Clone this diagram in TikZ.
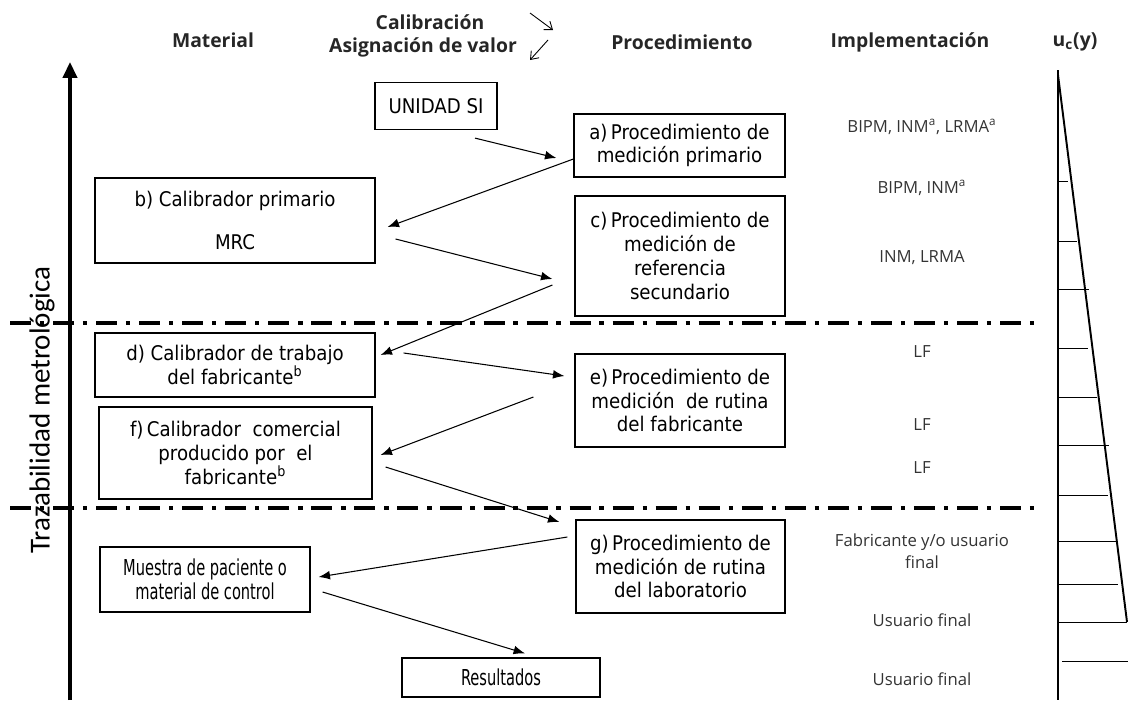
\documentclass[tikz,border=0pt]{standalone}
\usepackage{fontspec}
\setmainfont{Open Sans}
\newfontfamily\boxfont{DejaVu Sans Condensed}
\newfontfamily\narrowboxfont[FakeStretch=0.74]{DejaVu Sans Condensed}
\newfontfamily\trazfont{Carlito}
\usetikzlibrary{arrows.meta}
\usetikzlibrary{calc}

\begin{document}
\begin{tikzpicture}
[x=0.02cm,y=-0.02cm,%
  boxDecorate/.style={draw,line width=0.7pt,align=center,inner sep=2pt,font=\boxfont\fontsize{11.5}{13.5}\selectfont},%
  narrowDecorate/.style={boxDecorate,font=\narrowboxfont\fontsize{12.5}{14}\selectfont},%
  headDecorate/.style={text=black!85,font=\bfseries\fontsize{11}{13.5}\selectfont},%
  implDecorate/.style={align=center,text=black!80,font=\fontsize{9.5}{12.5}\selectfont},%
  flowDecorate/.style={-{Latex[length=6.5pt,width=5pt]},line width=0.6pt},%
  levelDecorate/.style={line width=2pt,dash pattern=on 12pt off 5pt on 2.5pt off 5pt},%
  tickDecorate/.style={line width=0.5pt}]
\useasboundingbox (0,0) rectangle (1128,700);
%% column headers
\node[headDecorate] (material) at (213,40) {Material};
\node[headDecorate] (calib) at (430,22) {Calibración};
\node[headDecorate] (asign) at (423,47) {Asignación de valor};
\node[headDecorate] (proced) at (682,42) {Procedimiento};
\node[headDecorate] (implem) at (910,42) {Implementación};
\node[headDecorate] (unc) at (1075,42) {u\textsubscript{c}(y)};
\coordinate (calA) at (530,13);
\coordinate (calB) at (553,30);
\coordinate (asgA) at (548,40);
\coordinate (asgB) at (530,60);
\draw[-{Straight Barb[length=4pt,width=6pt]},line width=0.5pt] (calA) -- (calB);
\draw[-{Straight Barb[length=4pt,width=6pt]},line width=0.5pt] (asgA) -- (asgB);
%% traceability axis
\node[rotate=90,font=\trazfont\fontsize{16.5}{18}\selectfont] (traz) at (42,410) {Trazabilidad metrológica};
\coordinate (axbot) at (70,700);
\coordinate (axtop) at (70,62);
\draw[-{Triangle[length=9pt,width=8pt]},line width=1.9pt] (axbot) -- (axtop);
%% level separators
\draw[levelDecorate] (10,323) -- (1035,323);
\draw[levelDecorate] (10,508) -- (1035,508);
%% material and procedure boxes
\node[boxDecorate,minimum width=2.44cm,minimum height=0.94cm] (unidad) at (436,106) {UNIDAD SI};
\node[boxDecorate,minimum width=4.22cm,minimum height=1.26cm] (a) at (679.5,145.5) {a)\,Procedimiento de\\medición primario};
\node[boxDecorate,minimum width=5.6cm,minimum height=1.7cm] (b) at (235,220.5) {b) Calibrador primario\\[11pt]MRC};
\node[boxDecorate,minimum width=4.2cm,minimum height=2.4cm] (c) at (680,256) {c)\,Procedimiento de\\medición de\\referencia\\secundario};
\node[boxDecorate,minimum width=5.6cm,minimum height=1.28cm] (d) at (235,365) {d) Calibrador de trabajo\\del fabricante\textsuperscript{b}};
\node[boxDecorate,minimum width=4.2cm,minimum height=1.86cm] (e) at (680,400.5) {e)\,Procedimiento de\\medición \ de rutina\\del fabricante};
\node[boxDecorate,minimum width=5.46cm,minimum height=1.84cm] (f) at (235.5,453) {f)\,Calibrador \ comercial\\producido por \ el\\fabricante\textsuperscript{b}};
\node[boxDecorate,minimum width=4.18cm,minimum height=1.86cm] (g) at (680.5,566.5) {g)\,Procedimiento de\\medición de rutina\\del laboratorio};
\node[narrowDecorate,minimum width=4.2cm,minimum height=1.3cm] (muestra) at (205,579.5) {Muestra de paciente o\\material de control};
\node[narrowDecorate,minimum width=3.96cm,minimum height=0.78cm] (result) at (501,677.5) {Resultados};
%% calibration / value assignment chain
\draw[flowDecorate] ($(unidad.south)+(39,8)$) -- ($(a.west)+(-17,12.5)$);
\draw[flowDecorate] ($(a.west)+(0,13.5)$) -- ($(b.east)+(12,6.5)$);
\draw[flowDecorate] ($(b.east)+(20,18.5)$) -- ($(c.west)+(-22,23)$);
\draw[flowDecorate] ($(c.west)+(-22,29)$) -- ($(d.east)+(5,-10)$);
\draw[flowDecorate] ($(d.east)+(28,-12)$) -- ($(e.west)+(-10,-24.5)$);
\draw[flowDecorate] ($(e.west)+(-41,-3.5)$) -- ($(f.east)+(8,2)$);
\draw[flowDecorate] ($(f.east)+(13,14)$) -- ($(g.west)+(-16,-44.5)$);
\draw[flowDecorate] ($(g.west)+(-8,-29.5)$) -- ($(muestra.east)+(8,-2.5)$);
\draw[flowDecorate] ($(muestra.east)+(12,12.5)$) -- ($(result.north)+(24,-4)$);
%% implementation column
\foreach \ypos/\txt [count=\i] in {
  127/{BIPM, INM\textsuperscript{a}, LRMA\textsuperscript{a}},
  188/{BIPM, INM\textsuperscript{a}},
  258/{INM, LRMA},
  352/{LF}, 425/{LF}, 468/{LF},
  551/{Fabricante y/o usuario\\final},
  620/{Usuario final}, 679/{Usuario final}}
{
  \node[implDecorate] (impl\i) at (922,\ypos) {\txt};
}
%% combined uncertainty wedge
\draw[line width=1.1pt] (1058,70) -- (1058,700);
\draw[line width=1.1pt] (1058,75) -- (1127,622);
\foreach \ty/\tx in {181/1068, 241/1077, 289/1089, 348/1088, 397/1097,
  445/1109, 495/1108, 541/1117, 584/1118, 622/1127}
{
  \draw[tickDecorate] (1058,\ty) -- (\tx,\ty);
}
\draw[tickDecorate] (1062,661) -- (1128,661);
\end{tikzpicture}
\end{document}
